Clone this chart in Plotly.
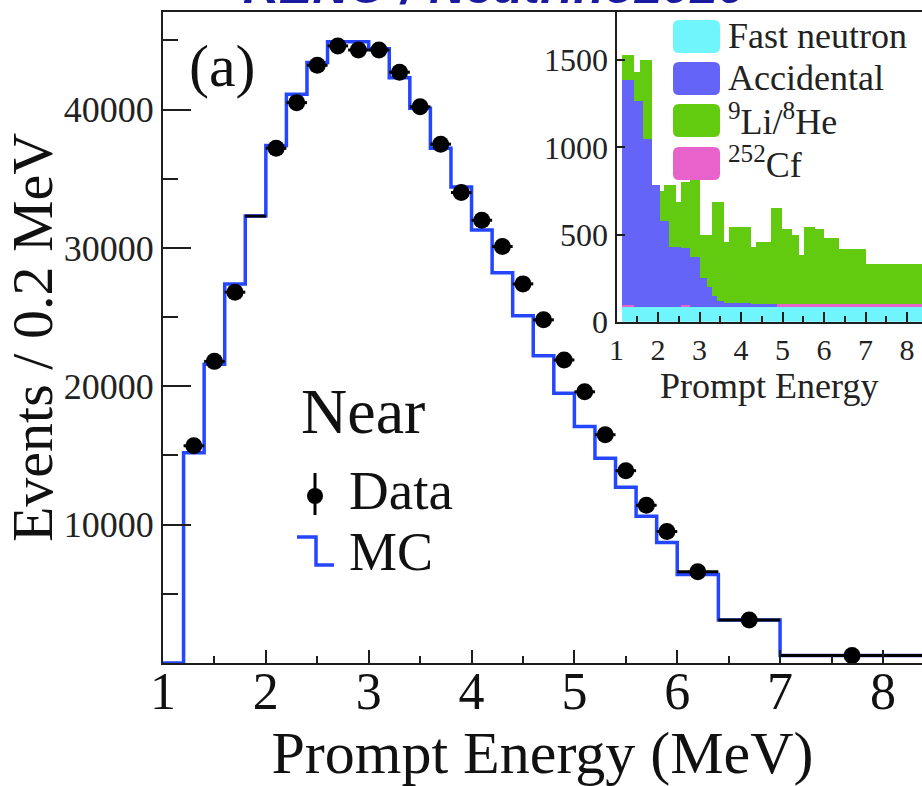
import plotly.graph_objects as go

# ---------------- data ----------------
# Main panel: MC histogram (Events / 0.2 MeV), bin edges in MeV
mc_edges = [1.0, 1.2, 1.4, 1.6, 1.8, 2.0, 2.2, 2.4, 2.6, 2.8, 3.0, 3.2, 3.4, 3.6,
            3.8, 4.0, 4.2, 4.4, 4.6, 4.8, 5.0, 5.2, 5.4, 5.6, 5.8, 6.0, 6.4, 7.0, 8.4]
mc_values = [0, 15200, 21600, 27400, 32300, 37400, 41100, 43400, 44900, 44900,
             44400, 42300, 40100, 37200, 34400, 31300, 28200, 25100, 22200,
             19500, 17100, 14800, 12700, 10600, 8700, 6400, 3100, 540]
# Data points, one per MC bin from 1.2 MeV on (no marker drawn for the 1.8-2.0 bin)
data_values = [15700, 21800, 26800, 32300, 37200, 40500, 43200, 44600, 44300,
               44300, 42700, 40200, 37500, 34000, 32000, 30100, 27400, 24800,
               21900, 19600, 16500, 13900, 11400, 9500, 6600, 3100, 540]
data_hidden_bins = [3]

# Inset: stacked backgrounds, bin edges in MeV
bkg_edges = [1.125, 1.40, 1.55, 1.63, 1.85, 2.03, 2.13, 2.25, 2.41, 2.53, 2.77,
             3.01, 3.17, 3.29, 3.41, 3.57, 3.69, 4.22, 4.34, 4.70, 4.86, 4.98,
             5.22, 5.38, 5.50, 5.78, 5.98, 6.34, 6.99, 8.40]
fast_neutron = [86] * 29
cf252 = [12, 0, 0, 0, 0, 0, 0, 0, 0, 12, 0, 0, 0, 0, 0, 0, 0, 0, 0, 0,
         14, 14, 14, 14, 14, 14, 14, 14, 14]
accidental = [1288, 1179, 1179, 959, 698, 492, 492, 344, 344, 323, 287, 164,
              114, 64, 32, 19, 19, 17, 15, 15, 0, 0, 0, 0, 0, 0, 0, 0, 0]
li_he = [143, 165, 235, 455, 0, 172, 206, 354, 255, 379, 439, 247, 297, 538,
         570, 354, 440, 327, 358, 549, 550, 433, 395, 282, 445, 431, 378, 316, 232]

main_xticks = [1, 2, 3, 4, 5, 6, 7, 8]
main_yticks = [10000, 20000, 30000, 40000]
inset_xticks = [1, 2, 3, 4, 5, 6, 7, 8]
inset_yticks = [0, 500, 1000, 1500]

bkg_names = ["Fast neutron", "Accidental", "<sup>9</sup>Li/<sup>8</sup>He", "<sup>252</sup>Cf"]

# ---------------- styles ----------------
W, H = 922, 786
PX0, PX1, PY0, PY1 = 163, 922, 12, 663  # main plot area in pixels
SERIF = "Liberation Serif"
AXC = "#1e1e1e"
MC_BLUE = "#2446ff"
C_FAST, C_ACC, C_LI, C_CF = "#6ff5fb", "#6464f8", "#62cb10", "#e862cc"


def px(x):
    return (x - PX0) / (PX1 - PX0)


def py(y):
    return (PY1 - y) / (PY1 - PY0)


fig = go.Figure()

# MC step histogram
fig.add_trace(go.Scatter(
    x=mc_edges, y=mc_values + [mc_values[-1]], mode="lines", line_shape="hv",
    line=dict(color=MC_BLUE, width=3.5), xaxis="x", yaxis="y", showlegend=False,
    hoverinfo="skip"))

# Data points with bin-width x error bars
data_edges = mc_edges[1:]
data_x = [(a + b) / 2 for a, b in zip(data_edges[:-1], data_edges[1:])]
data_xerr = [(b - a) / 2 for a, b in zip(data_edges[:-1], data_edges[1:])]
sizes = [0 if i in data_hidden_bins else 17 for i in range(len(data_values))]
fig.add_trace(go.Scatter(
    x=data_x, y=data_values, mode="markers",
    marker=dict(color="black", size=sizes, opacity=1, line=dict(width=0)),
    error_x=dict(type="data", array=data_xerr, color="black", thickness=3, width=0),
    xaxis="x", yaxis="y", showlegend=False))

# Inset stacked histograms
centers = [(a + b) / 2 for a, b in zip(bkg_edges[:-1], bkg_edges[1:])]
widths = [(b - a) for a, b in zip(bkg_edges[:-1], bkg_edges[1:])]
for vals, col in [(fast_neutron, C_FAST), (cf252, C_CF), (accidental, C_ACC), (li_he, C_LI)]:
    fig.add_trace(go.Bar(x=centers, y=vals, width=widths, marker=dict(color=col, line=dict(width=0)),
                         xaxis="x2", yaxis="y2", showlegend=False))

ix0 = px(616.5)
iy0 = py(321.7)

fig.update_layout(
    width=W, height=H, autosize=False,
    margin=dict(l=PX0, r=W - PX1, t=PY0, b=H - PY1, pad=0),
    paper_bgcolor="white", plot_bgcolor="white",
    barmode="stack", bargap=0,
    font=dict(family=SERIF, color="#111"),
    xaxis=dict(domain=[0, 1], range=[1, 8.38], tickvals=main_xticks,
               ticks="inside", ticklen=13, tickwidth=2, tickcolor=AXC,
               minor=dict(dtick=0.5, tick0=0.5, ticks="inside", ticklen=7, tickwidth=2, tickcolor=AXC),
               showline=True, linecolor=AXC, linewidth=2, mirror=True,
               showgrid=False, zeroline=False, ticklabelstandoff=-18,
               tickfont=dict(family=SERIF, size=52, color="#111"),
               title=dict(text="Prompt Energy (MeV)", font=dict(family=SERIF, size=60, color="#111"), standoff=22)),
    yaxis=dict(domain=[0, 1], range=[0, 47050], tickvals=main_yticks, tickformat="d",
               ticks="inside", ticklen=28, tickwidth=2, tickcolor=AXC,
               minor=dict(dtick=5000, tick0=0, ticks="inside", ticklen=15, tickwidth=2, tickcolor=AXC),
               showline=True, linecolor=AXC, linewidth=2, mirror=False,
               showgrid=False, zeroline=False,
               tickfont=dict(family=SERIF, size=36, color="#222"),
               title=dict(text="Events / 0.2 MeV", font=dict(family=SERIF, size=58, color="#111"), standoff=2)),
    xaxis2=dict(domain=[ix0, 1], range=[1, 8.36], anchor="y2", tickvals=inset_xticks,
                ticks="inside", ticklen=10, tickwidth=2, tickcolor=AXC,
                minor=dict(dtick=0.5, tick0=0.5, ticks="inside", ticklen=6, tickwidth=2, tickcolor=AXC),
                showline=True, linecolor=AXC, linewidth=2, showgrid=False, zeroline=False,
                tickfont=dict(family=SERIF, size=30, color="#222"),
                title=dict(text="Prompt Energy", font=dict(family=SERIF, size=36, color="#222"), standoff=2)),
    yaxis2=dict(domain=[iy0, 1], range=[0, 1776], anchor="x2", tickvals=inset_yticks,
                ticks="inside", ticklen=8, tickwidth=2, tickcolor=AXC,
                showline=True, linecolor=AXC, linewidth=2, showgrid=False, zeroline=False,
                tickfont=dict(family=SERIF, size=32, color="#222")),
)

shapes = []
annotations = []

# inset legend (rounded boxes + labels)
box_rows = [(20, 53), (62, 95), (104, 137), (147, 180)]
box_cols = [C_FAST, C_ACC, C_LI, C_CF]
bx0, bx1, r = 673, 720, 6
for (t, b), col, name in zip(box_rows, box_cols, bkg_names):
    rx = r / (PX1 - PX0)
    ry = r / (PY1 - PY0)
    X0, X1, Y0, Y1 = px(bx0), px(bx1), py(b), py(t)
    path = (f"M {X0+rx},{Y0} L {X1-rx},{Y0} Q {X1},{Y0} {X1},{Y0+ry} L {X1},{Y1-ry} "
            f"Q {X1},{Y1} {X1-rx},{Y1} L {X0+rx},{Y1} Q {X0},{Y1} {X0},{Y1-ry} "
            f"L {X0},{Y0+ry} Q {X0},{Y0} {X0+rx},{Y0} Z")
    shapes.append(dict(type="path", path=path, xref="paper", yref="paper",
                       fillcolor=col, line=dict(width=0), layer="above"))
    annotations.append(dict(text=name, x=px(726), y=py((t + b) / 2 - 1), xref="paper", yref="paper",
                            xanchor="left", yanchor="middle", showarrow=False,
                            font=dict(family=SERIF, size=36, color="#222")))

# main legend
annotations.append(dict(text="Near", x=px(299), y=py(412), xref="paper", yref="paper",
                        xanchor="left", yanchor="middle", showarrow=False,
                        font=dict(family=SERIF, size=64, color="#111")))
annotations.append(dict(text="Data", x=px(347), y=py(490), xref="paper", yref="paper",
                        xanchor="left", yanchor="middle", showarrow=False,
                        font=dict(family=SERIF, size=55, color="#111")))
annotations.append(dict(text="MC", x=px(347), y=py(552), xref="paper", yref="paper",
                        xanchor="left", yanchor="middle", showarrow=False,
                        font=dict(family=SERIF, size=54, color="#111")))
annotations.append(dict(text="(a)", x=px(187), y=py(66), xref="paper", yref="paper",
                        xanchor="left", yanchor="middle", showarrow=False,
                        font=dict(family=SERIF, size=60, color="#111")))
# cut-off header text at the very top (only its lower edge is inside the picture)
annotations.append(dict(text="<b><i>RENO / Neutrino2020</i></b>", x=px(494), y=py(16),
                        xref="paper", yref="paper", xanchor="center", yanchor="bottom",
                        showarrow=False, font=dict(family="Liberation Sans", size=50, color="#1a1aa0")))

# Data icon
shapes.append(dict(type="line", xref="paper", yref="paper", x0=px(315), x1=px(315),
                   y0=py(473), y1=py(515), line=dict(color="black", width=3)))
shapes.append(dict(type="circle", xref="paper", yref="paper", x0=px(307), x1=px(323),
                   y0=py(504), y1=py(488), fillcolor="black", line=dict(width=0)))
# MC icon
shapes.append(dict(type="path", xref="paper", yref="paper",
                   path=f"M {px(297)},{py(537)} L {px(316)},{py(537)} L {px(316)},{py(565)} L {px(334)},{py(565)}",
                   line=dict(color=MC_BLUE, width=3.5)))

fig.update_layout(shapes=shapes, annotations=annotations)
fig.write_html("out.html")
